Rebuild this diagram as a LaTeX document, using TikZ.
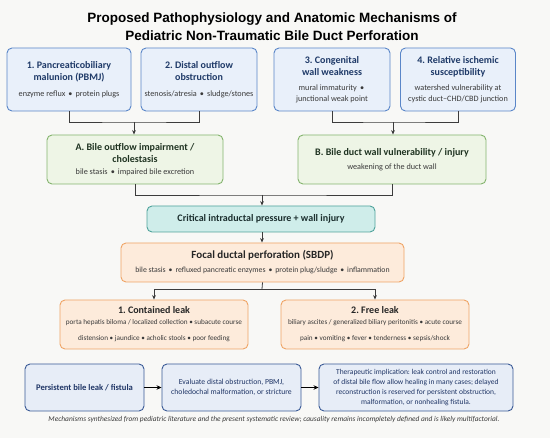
\documentclass[tikz,border=0pt]{standalone}
\usepackage{fontspec}
\setmainfont{Carlito}
\newfontfamily\titlefont{Liberation Sans}
\usetikzlibrary{arrows.meta,calc}
\frenchspacing
\definecolor{bg}{HTML}{F8F8F6}
\definecolor{topf}{HTML}{E9F0FA}
\definecolor{topd}{HTML}{5A86C8}
\definecolor{navy}{HTML}{1F3A68}
\definecolor{subg}{HTML}{3A3A3A}
\definecolor{grnf}{HTML}{EEF5E6}
\definecolor{grnd}{HTML}{84B46E}
\definecolor{grnt}{HTML}{1F3321}
\definecolor{tealf}{HTML}{CFEDEA}
\definecolor{teald}{HTML}{4FA39B}
\definecolor{tealt}{HTML}{1B2E2E}
\definecolor{orf}{HTML}{FDEBDB}
\definecolor{ord}{HTML}{EFA465}
\definecolor{ort}{HTML}{262626}
\definecolor{botf}{HTML}{E7EDF7}
\definecolor{botd}{HTML}{3A5A96}
\definecolor{bott}{HTML}{1F3566}
\definecolor{conn}{HTML}{3C3C3C}
\newcommand\subA{\fontsize{8.2}{10}\selectfont\mdseries\frenchspacing}
\newcommand\subL{\fontsize{7.2}{9}\selectfont\mdseries\frenchspacing}
\newcommand\bul{\hskip0.15em•\hskip0.15em}
\begin{document}
\begin{tikzpicture}[x=1pt,y=-1pt,
  box/.style={draw, rounded corners=5pt, line width=0.9pt, align=center, inner sep=2pt},
  topbox/.style={box, draw=topd, fill=topf, text=navy, minimum width=116pt, minimum height=63pt, font=\fontsize{10}{12.5}\selectfont\bfseries\frenchspacing},
  grnbox/.style={box, draw=grnd, fill=grnf, text=grnt, minimum height=49pt, font=\fontsize{10}{12.5}\selectfont\bfseries\frenchspacing},
  tealbox/.style={box, draw=teald, fill=tealf, text=tealt, minimum height=26pt, font=\fontsize{10}{12}\selectfont\bfseries\frenchspacing},
  orbox/.style={box, draw=ord, fill=orf, text=ort},
  botbox/.style={box, draw=botd, fill=botf, text=bott, minimum height=47pt},
  conn/.style={draw=conn, line width=0.8pt},
  arr/.style={conn, -{Stealth[length=4.5pt,width=3.8pt]}},
  barr/.style={draw=black, line width=0.9pt, -{Stealth[length=5pt,width=4.5pt]}}
]
\fill[bg] (0,0) rectangle (550,438);
\useasboundingbox (0,0) rectangle (550,438);

% title
\node[font=\titlefont\fontsize{13.5}{18}\selectfont\bfseries, text=black, align=center] (title) at (272,27)
  {Proposed Pathophysiology and Anatomic Mechanisms of\\Pediatric Non-Traumatic Bile Duct Perforation};

% top row
\node[topbox, minimum width=124pt] (b1) at (69,79.5)
  {1. Pancreaticobiliary\\malunion (PBMJ)\\[3pt]{\subA\color{subg}enzyme reflux \bul{} protein plugs}};
\node[topbox] (b2) at (199,79.5)
  {2. Distal outflow\\obstruction\\[3pt]{\subA\color{subg}stenosis/atresia \bul{} sludge/stones}};
\node[topbox] (b3) at (332,79.5)
  {3. Congenital\\wall weakness\\[2pt]{\subA\color{subg}mural immaturity \bul}\\[-1.5pt]{\subA\color{subg}junctional weak point}};
\node[topbox, minimum width=115pt] (b4) at (458,79.5)
  {4. Relative ischemic\\susceptibility\\[2pt]{\subA\color{subg}watershed vulnerability at}\\[-1.5pt]{\subA\color{subg}cystic duct–CHD/CBD junction}};

% second row
\node[grnbox, minimum width=176pt] (A) at (135,159.5)
  {A. Bile outflow impairment /\\cholestasis\\[-1pt]{\subA\color{subg}bile stasis \bul{} impaired bile excretion}};
\node[grnbox, minimum width=188pt] (B) at (392,159.5)
  {B. Bile duct wall vulnerability / injury\\[1pt]{\subA\color{subg}weakening of the duct wall}};

\coordinate (jA) at (134,122);
\coordinate (jB) at (393,122);
\draw[conn] (b1.south) |- (jA) -| (b2.south);
\draw[conn] (b3.south) |- (jB) -| (b4.south);
\draw[arr] (jA) -- (jA |- A.north);
\draw[arr] (jB) -- (jB |- B.north);

% critical
\node[tealbox, minimum width=228pt] (C) at (261,219) {Critical intraductal pressure + wall injury};
\coordinate (jC) at (262,195);
\draw[conn] (A.south) |- (jC) -| (B.south);
\draw[arr] (jC) -- (jC |- C.north);

% focal
\node[orbox, minimum width=283pt, minimum height=39pt, font=\fontsize{11}{14}\selectfont\bfseries\frenchspacing] (F) at (262.5,262.5)
  {Focal ductal perforation (SBDP)\\{\fontsize{7.8}{10}\selectfont\mdseries\color{subg}bile stasis \bul{} refluxed pancreatic enzymes \bul{} protein plug/sludge \bul{} inflammation}};
\draw[arr] (C.south -| jC) -- (F.north -| jC);

% leaks
\node[orbox, minimum width=188pt, minimum height=49pt, font=\fontsize{10}{11}\selectfont\bfseries\frenchspacing] (L1) at (154,324.5)
  {1. Contained leak\\{\subL\color{subg}porta hepatis biloma / localized collection • subacute course}\\[5pt]{\subL\color{subg}distension • jaundice • acholic stools • poor feeding}};
\node[orbox, minimum width=188pt, minimum height=49pt, font=\fontsize{10}{11}\selectfont\bfseries\frenchspacing] (L2) at (375,324.5)
  {2. Free leak\\{\subL\color{subg}biliary ascites / generalized biliary peritonitis • acute course}\\[5pt]{\subL\color{subg}pain • vomiting • fever • tenderness • sepsis/shock}};
\coordinate (jF) at (262,289);
\draw[conn] (F.south) -- (jF);
\draw[arr] (jF) -| (L1.north);
\draw[arr] (jF) -| (L2.north);

% bottom row
\node[botbox, minimum width=119pt, font=\fontsize{8.6}{10}\selectfont\bfseries] (P) at (84.5,387.5)
  {Persistent bile leak / fistula};
\node[botbox, minimum width=139pt, font=\fontsize{7.7}{10}\selectfont] (E) at (231.5,387.5)
  {Evaluate distal obstruction, PBMJ,\\choledochal malformation, or stricture};
\node[botbox, minimum width=194pt, font=\fontsize{7.5}{10}\selectfont] (T) at (416,387.5)
  {Therapeutic implication: leak control and restoration\\of distal bile flow allow healing in many cases; delayed\\reconstruction is reserved for persistent obstruction,\\malformation, or nonhealing fistula.};
\draw[barr] (P) -- (E);
\draw[barr] (E) -- (T);

% footer
\node[font=\fontsize{7.4}{9}\selectfont\itshape, text=subg] (foot) at (274,420)
  {Mechanisms synthesized from pediatric literature and the present systematic review; causality remains incompletely defined and is likely multifactorial.};
\end{tikzpicture}
\end{document}
